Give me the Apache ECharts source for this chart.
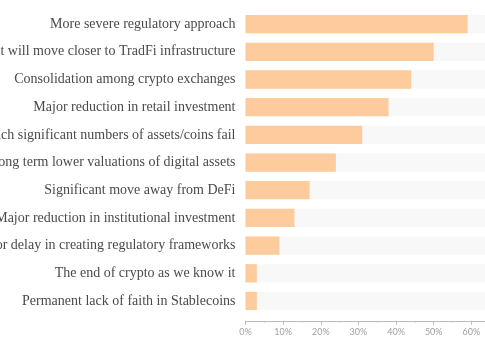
<!DOCTYPE html>
<html>
<head>
<meta charset="utf-8">
<script src="https://cdn.jsdelivr.net/npm/echarts@6/dist/echarts.min.js"></script>
<style>html,body{margin:0;padding:0;background:#fff;}#c{width:485px;height:360px;}</style>
</head>
<body>
<div id="c"></div>
<script>
var categories = [
  "More severe regulatory approach",
  "Market will move closer to TradFi infrastructure",
  "Consolidation among crypto exchanges",
  "Major reduction in retail investment",
  "Scenario in which significant numbers of assets/coins fail",
  "Long term lower valuations of digital assets",
  "Significant move away from DeFi",
  "Major reduction in institutional investment",
  "Failure or delay in creating regulatory frameworks",
  "The end of crypto as we know it",
  "Permanent lack of faith in Stablecoins"
];
var values = [59, 50, 44, 38, 31, 24, 17, 13, 9, 3, 3];

var chart = echarts.init(document.getElementById('c'), null, {renderer: 'canvas'});
chart.setOption({
  animation: false,
  backgroundColor: '#ffffff',
  grid: {left: 245.5, right: -24, top: 10.3, bottom: 45.2, containLabel: false, outerBoundsMode: 'none'},
  xAxis: {
    type: 'value', min: 0, max: 70, interval: 10, offset: 6,
    axisLine: {show: true, lineStyle: {color: '#bbbbbb', width: 1}},
    axisTick: {show: true, length: 4, lineStyle: {color: '#bbbbbb'}},
    minorTick: {show: true, splitNumber: 2, length: 2, lineStyle: {color: '#cccccc'}},
    splitLine: {show: false},
    axisLabel: {formatter: '{value}%', color: '#a0a0a0', fontSize: 9, fontFamily: 'Lato', margin: 7}
  },
  yAxis: {
    type: 'category', data: categories, inverse: true,
    axisLine: {show: false}, axisTick: {show: false},
    axisLabel: {color: '#4a4a4a', fontSize: 14, fontFamily: 'Liberation Serif', margin: 10}
  },
  series: [{
    type: 'bar', data: values, barCategoryGap: '34%',
    showBackground: true,
    backgroundStyle: {color: '#f8f8f8'},
    itemStyle: {color: '#fdcb9c'}
  }]
});
</script>
</body>
</html>
